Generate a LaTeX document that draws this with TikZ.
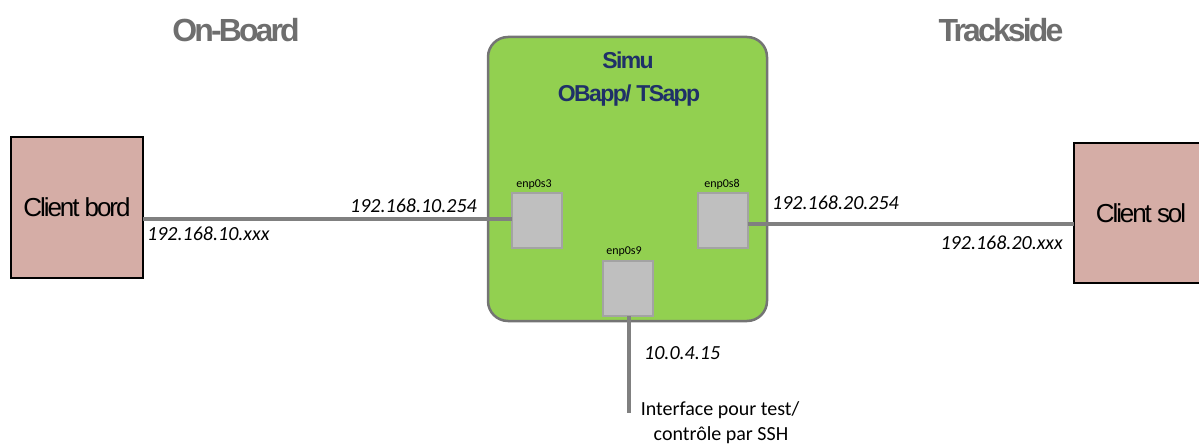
\documentclass[tikz,border=0pt]{standalone}
\usepackage{fontspec}
\setmainfont{Carlito}
\newfontfamily\headfont[LetterSpace=-9]{Liberation Sans}
\newfontfamily\simufont[LetterSpace=-7]{Liberation Sans}
\newfontfamily\clientfont[LetterSpace=-8]{Liberation Sans}
\definecolor{simugreen}{HTML}{92D050}
\definecolor{simuborder}{HTML}{747474}
\definecolor{navy}{HTML}{1F3068}
\definecolor{clientpink}{HTML}{D5ADA6}
\definecolor{portfill}{HTML}{BFBFBF}
\definecolor{portborder}{HTML}{A3A3A3}
\definecolor{linkgray}{HTML}{808080}
\definecolor{headgray}{HTML}{6E6E6E}
\tikzset{
  simubox/.style={draw=simuborder, line width=2.5pt, fill=simugreen, rounded corners=20pt,
    minimum width=279pt, minimum height=284pt, inner sep=0pt, outer sep=0pt},
  portbox/.style={draw=portborder, line width=2pt, fill=portfill,
    minimum width=50pt, minimum height=55pt, inner sep=0pt, outer sep=0pt},
  clientbox/.style={draw=black, line width=2.5pt, fill=clientpink, inner sep=0pt, outer sep=0pt,
    font=\clientfont\fontsize{26}{30}\selectfont},
  link/.style={draw=linkgray, line width=4pt},
  header/.style={font=\headfont\bfseries\fontsize{32}{36}\selectfont, text=headgray, inner sep=0pt, anchor=base},
  simutitle/.style={font=\simufont\bfseries\fontsize{23}{26}\selectfont, text=navy, inner sep=0pt, anchor=base},
  portlabel/.style={font=\fontsize{12}{14}\selectfont, inner sep=0pt, anchor=base},
  iplabel/.style={font=\itshape\fontsize{20}{24}\selectfont, inner sep=0pt},
  notelabel/.style={font=\fontsize{20}{24}\selectfont, inner sep=0pt, anchor=base},
}
\begin{document}
\begin{tikzpicture}[x=1pt,y=-1pt]
\useasboundingbox (0,0) rectangle (1199,446);
% headers
\node[header] (onboard) at (236,42) {On-Board};
\node[header] (trackside) at (1001,42) {Trackside};
% simulator box
\node[simubox] (simu) at (627.5,179) {};
\node[simutitle] (simut1) at (628,69) {Simu};
\node[simutitle] (simut2) at (629,102) {OBapp/ TSapp};
% ports
\node[portbox] (p3) at (537,220.5) {};
\node[portbox] (p8) at (722.5,220.5) {};
\node[portbox] (p9) at (627.5,288.5) {};
\node[portlabel] (l3) at (534,188) {enp0s3};
\node[portlabel] (l8) at (722,188) {enp0s8};
\node[portlabel] (l9) at (624,255) {enp0s9};
% clients
\node[clientbox, minimum width=132pt, minimum height=141pt] (cb) at (77,207.5) {Client bord};
\node[clientbox, minimum width=134pt, minimum height=140pt] (cs) at (1141,213) {Client sol};
% links
\draw[link] ([yshift=1.5pt]p3.west -| cb.east) -- ([yshift=1.5pt]p3.west);
\draw[link] ([yshift=-3.5pt]p8.east) -- ([yshift=-3.5pt]p8.east -| cs.west);
\coordinate (sshend) at (629,413);
\draw[link] (p9.south -| sshend) -- (sshend);
% ip labels
\node[iplabel, anchor=base east] (ip1) at (477,213) {192.168.10.254};
\node[iplabel, anchor=base west] (ip2) at (147,241) {192.168.10.xxx};
\node[iplabel, anchor=base west] (ip3) at (772,210) {192.168.20.254};
\node[iplabel, anchor=base east] (ip4) at (1063,250) {192.168.20.xxx};
\node[iplabel, anchor=base west] (ip5) at (644,359) {10.0.4.15};
\node[notelabel] (ssh1) at (720,415) {Interface pour test/};
\node[notelabel] (ssh2) at (721,440) {contrôle par SSH};
\end{tikzpicture}
\end{document}
